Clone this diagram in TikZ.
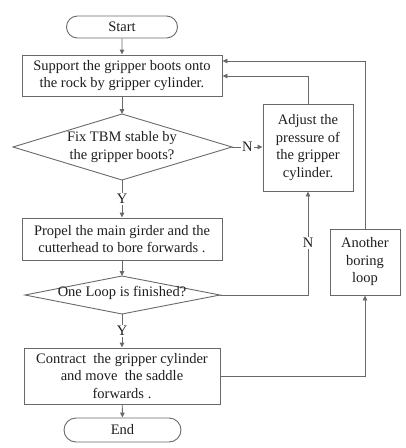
\documentclass[tikz,border=0pt]{standalone}
\usepackage{fontspec}
\setmainfont{Liberation Serif}
\usetikzlibrary{shapes.geometric,shapes.misc,arrows.meta}
\definecolor{ln}{RGB}{105,105,105}
\definecolor{tx}{RGB}{30,30,30}
\tikzset{
  every node/.style={font=\fontsize{14.5}{17.5}\selectfont, text=tx},
  box/.style={draw=ln, line width=0.9pt, rectangle, inner sep=0pt, align=center},
  term/.style={draw=ln, line width=0.9pt, rounded rectangle, inner sep=0pt},
  conn/.style={draw=ln, line width=0.9pt, -{Triangle[length=5pt,width=4.5pt]}},
  lbl/.style={fill=white, inner sep=1pt}
}
\begin{document}
\begin{tikzpicture}[x=1pt,y=-1pt]
\useasboundingbox (0,0) rectangle (406,448);
\node[term, minimum width=111pt, minimum height=22pt] (start) at (122,27) {Start};
\node[box, minimum width=200pt, minimum height=41pt] (b1) at (122,75.5) {Support the gripper boots onto\\the rock by gripper cylinder.};
\draw[draw=ln, line width=0.9pt] (13,147) coordinate (d1l) -- (122,114) coordinate (d1t) -- (232,147) coordinate (d1r) -- (122,180) coordinate (d1b) -- cycle;
\node[align=center] (d1) at (122,147) {Fix TBM stable by\\the gripper boots?};
\node[box, minimum width=90pt, minimum height=87pt] (adj) at (308,147.5) {Adjust the\\pressure of\\the gripper\\cylinder.};
\node[box, minimum width=200pt, minimum height=42pt] (b2) at (122,239) {Propel the main girder and the\\cutterhead to bore forwards .};
\draw[draw=ln, line width=0.9pt] (25,295) coordinate (d2l) -- (122,276) coordinate (d2t) -- (220,295) coordinate (d2r) -- (122,314) coordinate (d2b) -- cycle;
\node (d2) at (122,293) {One Loop is finished?};
\node[box, minimum width=196pt, minimum height=56pt] (b3) at (122,376) {Contract\ \ the gripper cylinder\\and move\ \ the saddle\\forwards .};
\node[term, minimum width=117pt, minimum height=24pt] (end) at (122.5,430) {End};
\node[box, minimum width=70pt, minimum height=66pt] (ano) at (365,262) {Another\\boring\\loop};
\draw[conn] (start) -- (b1);
\draw[conn] (b1) -- (d1t);
\draw[conn] (d1r) -- node[lbl] {N} (adj.west |- d1r);
\draw[conn] (d1b) -- node[lbl, pos=0.5] {Y} (b2);
\draw[conn] (b2) -- (d2t);
\draw[conn] (d2b) -- node[lbl, pos=0.5] {Y} (b3);
\draw[conn] (d2r) -| node[lbl, pos=0.75] {N} (adj);
\draw[conn] (adj.north) |- (b1.east |- 0,76);
\draw[conn] (ano.north) |- (b1.east |- 0,61);
\draw[conn] (b3.east) -| (ano.south);
\draw[conn] (b3) -- (end);
\end{tikzpicture}
\end{document}
